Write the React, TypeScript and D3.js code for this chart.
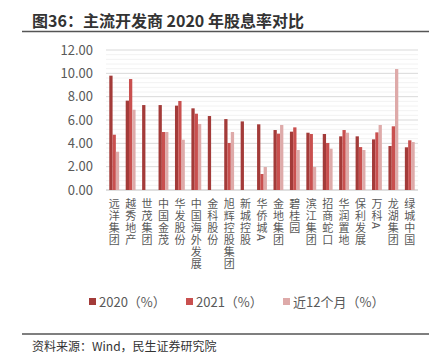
import React from "react";
import * as d3 from "d3";

const categories = ["远洋集团", "越秀地产", "世茂集团", "中国金茂", "华发股份", "中国海外发展", "金科股份", "旭辉控股集团", "新城控股", "华侨城A", "金地集团", "碧桂园", "滨江集团", "招商蛇口", "华润置地", "保利发展", "万科A", "龙湖集团", "绿城中国"];
const y2020: (number | null)[] = [9.8, 7.66, 7.28, 7.28, 7.23, 7.0, 6.34, 6.08, 5.88, 5.63, 5.14, 5.0, 4.91, 4.8, 4.6, 4.6, 4.34, 3.77, 3.66];
const y2021: (number | null)[] = [4.74, 9.51, null, 4.97, 7.63, 6.54, null, 4.03, null, 1.37, 4.83, 5.37, 4.8, 4.03, 5.14, 3.68, 4.94, 5.46, 4.26];
const yLTM: (number | null)[] = [3.28, 6.88, null, 4.97, 4.31, 5.66, null, 4.97, null, 1.97, 5.57, 3.43, 1.97, 3.54, 4.91, 3.43, 5.57, 10.37, 4.11];
const seriesNames = ["2020（%）", "2021（%）", "近12个月（%）"];
const seriesColors = ["#A33B39", "#C9504F", "#DEAAA9"];
const yTicks = [0, 2, 4, 6, 8, 10, 12];

const W = 446, H = 357;
const FONT = "'Noto Sans CJK SC', 'Noto Sans', sans-serif";

export default function App() {
  const left = 106, right = 418, top = 50, bottom = 190;
  const x = d3.scaleBand<string>().domain(categories).range([left, right]).paddingInner(0.4).paddingOuter(0.2);
  const y = d3.scaleLinear().domain([0, 12]).range([bottom, top]);
  const sub = d3.scaleBand<number>().domain([0, 1, 2]).range([0, x.bandwidth()]);
  const series = [y2020, y2021, yLTM];
  const minor = d3.range(0, 12.0001, 0.4).filter((v) => Math.abs(v / 2 - Math.round(v / 2)) > 1e-6);

  return (
    <svg width={W} height={H} style={{ position: "absolute", left: 0, top: 0 }} fontFamily={FONT}>
      <rect width={W} height={H} fill="#fff" />
      <text x={32} y={27} fontSize={16} fontWeight="bold" fill="#333">图36：主流开发商 2020 年股息率对比</text>
      <line x1={22} x2={429} y1={31.5} y2={31.5} stroke="#555" strokeWidth={1.5} />
      {minor.map((v) => (
        <line key={"m" + v} x1={left} x2={right} y1={y(v)} y2={y(v)} stroke="#F2F2F2" strokeWidth={1} />
      ))}
      {yTicks.map((v) => (
        <g key={v}>
          <line x1={left} x2={right} y1={y(v)} y2={y(v)} stroke={v === 0 ? "#BFBFBF" : "#D9D9D9"} strokeWidth={1} />
          <text x={93} y={y(v)} dy="0.36em" textAnchor="end" fontSize={13} fill="#595959">{v.toFixed(2)}</text>
        </g>
      ))}
      {categories.map((c, i) => (
        <g key={c}>
          {series.map((s, k) => {
            const v = s[i];
            if (v == null) return null;
            return (
              <rect key={k} x={(x(c) as number) + (sub(k) as number)} y={y(v)} width={sub.bandwidth()} height={y(0) - y(v)} fill={seriesColors[k]} />
            );
          })}
          <text x={(x(c) as number) + x.bandwidth() / 2} y={198} fontSize={11} letterSpacing={1} fill="#595959"
            style={{ writingMode: "vertical-rl", textOrientation: "mixed" } as any}>{c}</text>
        </g>
      ))}
      {seriesNames.map((n, k) => {
        const lx = [89, 186, 283][k];
        return (
          <g key={n}>
            <rect x={lx} y={298} width={7} height={7} fill={seriesColors[k]} />
            <text x={lx + 10} y={306.5} fontSize={13} fill="#595959">{n}</text>
          </g>
        );
      })}
      <line x1={22} x2={429} y1={334} y2={334} stroke="#555" strokeWidth={1.5} />
      <text x={32} y={351} fontSize={12} fill="#333">资料来源：Wind，民生证券研究院</text>
    </svg>
  );
}
